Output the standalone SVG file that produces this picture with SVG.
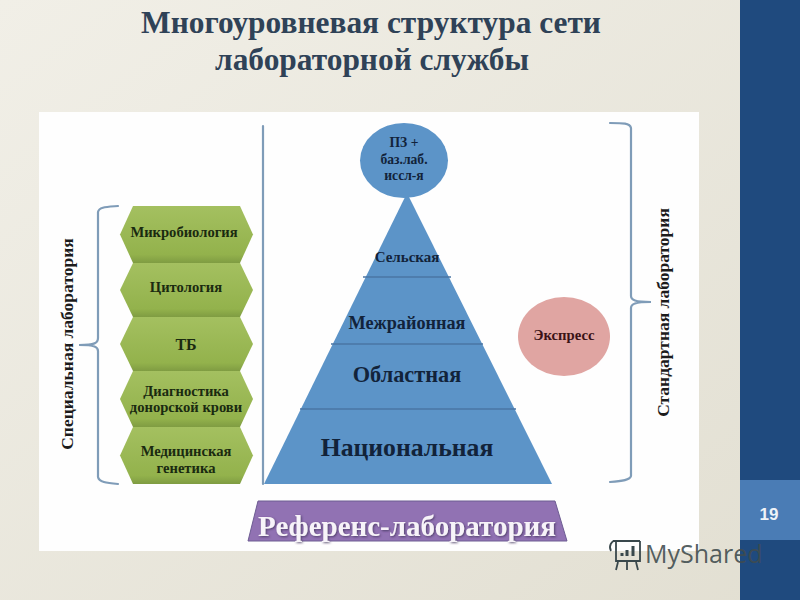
<svg xmlns="http://www.w3.org/2000/svg" width="800" height="600" viewBox="0 0 800 600">
<style>
.s{font-family:"Liberation Serif","Times New Roman",serif;font-weight:bold;text-anchor:middle;fill:#12233a}
.h{fill:url(#g)}
.b{fill:none;stroke:#7f9cb8;stroke-width:2.2;stroke-linecap:round}
.l{stroke:#4a76a4;stroke-width:1.5}
.hl{font-size:14.6px;fill:#1a2a10}
.t{font-size:13.6px}
.side{font-size:17.5px;fill:#1c1c1c}
</style>
<defs>
<linearGradient id="bg" x1="0" y1="0" x2="1" y2="1"><stop offset="0" stop-color="#f1efe7"/><stop offset="1" stop-color="#e2dfd2"/></linearGradient>
<linearGradient id="g" x1="0" y1="0" x2="0" y2="1"><stop offset="0" stop-color="#a4c060"/><stop offset=".85" stop-color="#93b24c"/><stop offset="1" stop-color="#7f9c42"/></linearGradient>
<filter id="sh" x="-5%" y="-20%" width="110%" height="140%"><feDropShadow dx="1" dy="1" stdDeviation="0.8" flood-color="#3d3358" flood-opacity=".8"/></filter>
</defs>
<rect width="800" height="600" fill="url(#bg)"/>
<rect x="740" width="60" height="600" fill="#1f4a7e"/>
<rect x="740" y="480" width="60" height="60" fill="#4a7cb5"/>
<text x="769" y="520" font-family="Liberation Sans,sans-serif" font-weight="bold" font-size="17" fill="#eef3f8" text-anchor="middle">19</text>
<g font-family="Liberation Serif,serif" font-weight="bold" font-size="31.400" fill="#2f4257" text-anchor="middle">
<text x="371" y="33">Многоуровневая структура сети</text>
<text x="372" y="70">лабораторной службы</text>
</g>
<rect x="39" y="112" width="660" height="439" fill="#fefefe"/>
<g id="connectors">
<path class="b" d="M263 126V484"/>
<path class="b" d="M118 206C106 207 99 207 98 212V338C98 343 95 345 79 345C95 345 98 347 98 351V477C99 482 106 483 118 484"/>
<path class="b" d="M610 123C623 123 630 123 631 128V296C631 300 635 302 651 302C635 302 631 304 631 308V476C630 480 623 481 610 482"/>
</g>
<g id="micro"><path class="h" d="M133 206H240L253 234.500L240 263H133L120 234.500Z"/><text class="s hl" x="184" y="237">Микробиология</text></g>
<g id="cyto"><path class="h" d="M133 263H240L253 290L240 317H133L120 290Z"/><text class="s hl" x="186" y="292">Цитология</text></g>
<g id="tb"><path class="h" d="M133 317H240L253 344L240 371H133L120 344Z"/><text class="s" style="fill:#1a2a10" x="186" y="350" font-size="16">ТБ</text></g>
<g id="donor"><path class="h" d="M133 371H240L253 399L240 427H133L120 399Z"/><text class="s hl" x="186" y="396">Диагностика</text><text class="s hl" x="186" y="412">донорской крови</text></g>
<g id="genetics"><path class="h" d="M133 427H240L253 455.500L240 484H133L120 455.500Z"/><text class="s hl" x="186" y="456">Медицинская</text><text class="s hl" x="186" y="473">генетика</text></g>
<g id="pyramid">
<path d="M407 193L552 484H264Z" fill="#5c94c8"/>
<path class="l" d="M363 277H451M331 344H483M300 409H516"/>
<text class="s" x="407" y="262" font-size="15">Сельская</text>
<text class="s" x="407" y="329" font-size="18.200">Межрайонная</text>
<text class="s" x="407" y="382" font-size="22.300">Областная</text>
<text class="s" x="407" y="456" font-size="25.700">Национальная</text>
</g>
<g id="top"><ellipse cx="404" cy="160.500" rx="44" ry="37.500" fill="#5c94c8"/>
<text class="s t" x="404" y="147">ПЗ +</text><text class="s t" x="404" y="163.500">баз.лаб.</text><text class="s t" x="404" y="180">иссл-я</text></g>
<g id="express"><ellipse cx="564" cy="336.500" rx="46" ry="39.500" fill="#e0a5a2"/><text class="s" style="fill:#3a1216" x="564" y="340" font-size="14.700">Экспресс</text></g>
<g id="reference"><path d="M248 541L258 501H555L567 541Z" fill="#9172b3" stroke="#6d5c92"/><text class="s" style="fill:#f7f3f9" x="407" y="536" font-size="29" filter="url(#sh)">Референс-лаборатория</text></g>
<text class="s side" transform="translate(73 344) rotate(-90)">Специальная лаборатория</text>
<text class="s side" transform="translate(669 312.500) rotate(-90)">Стандартная лаборатория</text>
<g id="watermark" fill="none" stroke="#39484c" stroke-width="1.800">
<path d="M613 541H640M616 541V561H640V541M611 551C608 546 612 540 616 541M618 562L616 570M627 562V570M636 562L638 570"/>
<path d="M622 556V553M627 556V550M633 556V546" stroke-width="3"/>
<text x="645" y="563" font-family="Open Sans,Liberation Sans,sans-serif" font-size="25" fill="#3f4c4e" fill-opacity=".9" stroke="none">MyShared</text>
</g>
</svg>
